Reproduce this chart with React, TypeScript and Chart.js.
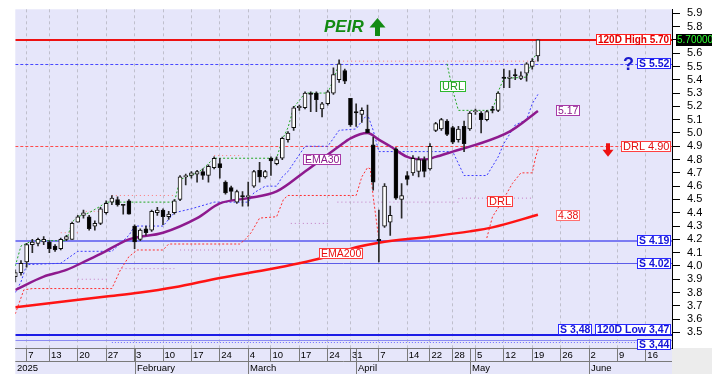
import React, { useEffect, useRef } from 'react';
import { Chart, registerables } from 'chart.js';

Chart.register(...registerables);

// ---------------- data ----------------
// one candle per trading day, index 0 = 2 Jan 2025
const opens = [
  3.92, 3.95, 4.03, 4.16, 4.17, 4.18, 4.18, 4.15, 4.13, 4.20,
  4.20, 4.33, 4.38, 4.37, 4.30, 4.32, 4.40, 4.48, 4.50, 4.46,
  4.49, 4.30, 4.20, 4.28, 4.27, 4.40, 4.42, 4.37, 4.40, 4.50,
  4.67, 4.68, 4.69, 4.71, 4.68, 4.74, 4.77, 4.63, 4.59, 4.48,
  4.53, 4.52, 4.60, 4.72, 4.67, 4.81, 4.77, 4.81, 4.95, 5.04,
  5.19, 5.19, 5.30, 5.30, 5.18, 5.22, 5.30, 5.40, 5.47, 5.26,
  5.16, 5.14, 5.03, 4.91, 4.20, 4.30, 4.33, 4.88, 4.50, 4.68,
  4.70, 4.71, 4.80, 4.73, 5.02, 5.03, 5.09, 5.04, 4.95, 5.05,
  5.03, 5.16, 5.15, 5.10, 5.18, 5.17, 5.42, 5.41, 5.44, 5.41,
  5.45, 5.50, 5.58,
];
const highs = [
  3.97, 4.04, 4.17, 4.20, 4.21, 4.22, 4.19, 4.16, 4.21, 4.23,
  4.33, 4.38, 4.42, 4.38, 4.34, 4.44, 4.49, 4.53, 4.52, 4.46,
  4.50, 4.31, 4.28, 4.30, 4.42, 4.44, 4.43, 4.41, 4.50, 4.68,
  4.69, 4.71, 4.72, 4.73, 4.76, 4.82, 4.81, 4.64, 4.60, 4.57,
  4.56, 4.63, 4.72, 4.78, 4.72, 4.82, 4.82, 4.97, 5.01, 5.20,
  5.21, 5.31, 5.31, 5.31, 5.23, 5.32, 5.49, 5.55, 5.48, 5.26,
  5.22, 5.19, 5.21, 4.97, 4.42, 4.62, 4.45, 4.89, 4.62, 4.71,
  4.83, 4.82, 4.82, 4.92, 5.08, 5.11, 5.10, 5.05, 5.05, 5.09,
  5.16, 5.18, 5.16, 5.17, 5.20, 5.31, 5.48, 5.47, 5.48, 5.46,
  5.53, 5.56, 5.70,
];
const lows = [
  3.88, 3.93, 3.99, 4.10, 4.15, 4.16, 4.10, 4.11, 4.12, 4.19,
  4.20, 4.33, 4.36, 4.27, 4.27, 4.31, 4.39, 4.46, 4.45, 4.39,
  4.39, 4.13, 4.19, 4.23, 4.26, 4.38, 4.31, 4.35, 4.39, 4.49,
  4.61, 4.66, 4.63, 4.65, 4.63, 4.73, 4.66, 4.54, 4.50, 4.47,
  4.45, 4.45, 4.59, 4.63, 4.66, 4.68, 4.76, 4.80, 4.93, 5.02,
  5.17, 5.18, 5.16, 5.16, 5.12, 5.21, 5.29, 5.38, 5.37, 5.05,
  5.05, 5.08, 5.00, 4.57, 4.03, 4.29, 4.23, 4.50, 4.36, 4.61,
  4.68, 4.67, 4.67, 4.72, 5.01, 5.02, 4.98, 4.92, 4.93, 4.86,
  5.02, 5.14, 5.00, 5.09, 5.15, 5.16, 5.34, 5.34, 5.40, 5.40,
  5.39, 5.48, 5.54,
];
const closes = [
  3.95, 4.02, 4.16, 4.18, 4.20, 4.20, 4.13, 4.12, 4.20, 4.22,
  4.32, 4.37, 4.40, 4.28, 4.32, 4.43, 4.47, 4.51, 4.46, 4.455,
  4.39, 4.18, 4.27, 4.25, 4.41, 4.42, 4.37, 4.39, 4.49, 4.67,
  4.68, 4.70, 4.71, 4.68, 4.75, 4.81, 4.74, 4.55, 4.56, 4.56,
  4.52, 4.53, 4.71, 4.67, 4.71, 4.79, 4.80, 4.96, 5.00, 5.19,
  5.20, 5.30, 5.29, 5.25, 5.22, 5.31, 5.44, 5.52, 5.39, 5.06,
  5.15, 5.17, 5.00, 4.63, 4.19, 4.60, 4.38, 4.51, 4.53, 4.65,
  4.81, 4.80, 4.71, 4.90, 5.07, 5.10, 4.99, 4.93, 5.03, 4.92,
  5.15, 5.16, 5.10, 5.16, 5.17, 5.30, 5.41, 5.42, 5.43, 5.43,
  5.52, 5.54, 5.70,
];

// x-axis tick labels (trading-day index -> label)
const dayTicks = [2, 6, 11, 16, 21, 26, 31, 36, 41, 45, 50, 55, 59, 64, 69, 73, 77, 81, 86, 91, 96, 101, 106, 111];
const dayLabels = ['7', '13', '20', '27', '3', '10', '17', '24', '4', '10', '17', '24', '31', '7', '14', '22', '28', '5', '12', '19', '26', '2', '9', '16'];
const monthTicks = [0, 21, 41, 60, 80, 101];
const monthLabels = ['2025', 'February', 'March', 'April', 'May', 'June'];
const priceTicks = [3.5, 3.6, 3.7, 3.8, 3.9, 4.0, 4.1, 4.2, 4.3, 4.4, 4.5, 4.6, 4.7, 4.8, 4.9, 5.0, 5.1, 5.2, 5.3, 5.4, 5.5, 5.6, 5.7, 5.8, 5.9];

// EMA200 (red)
const ema200Idx = [0, 10, 16, 22, 28, 36, 44, 50, 54, 60, 64, 73, 80, 84, 92];
const ema200Val = [3.69, 3.74, 3.77, 3.80, 3.84, 3.91, 3.97, 4.02, 4.06, 4.14, 4.175, 4.22, 4.26, 4.29, 4.385];
// EMA30 (purple)
const ema30Idx = [0, 5, 9, 13, 15, 20, 26, 32, 36, 41, 46, 51, 57, 59, 62, 64, 66, 69, 72, 74, 77, 81, 87, 92];
const ema30Val = [3.82, 3.92, 3.97, 4.05, 4.09, 4.20, 4.25, 4.36, 4.47, 4.51, 4.56, 4.71, 4.90, 4.96, 5.00, 4.95, 4.90, 4.82, 4.80, 4.82, 4.86, 4.91, 5.01, 5.165];
// blue trailing dotted line
const trailIdx = [0, 1, 2, 8, 9, 11, 17, 20, 21, 26, 28, 31, 35, 41, 42, 44, 46, 47, 48, 51, 55, 57, 60, 61, 62, 63, 64, 77, 78, 79, 83, 85, 86, 88, 90, 91, 92];
const trailVal = [3.80, 3.88, 4.01, 4.02, 4.05, 4.11, 4.11, 4.23, 4.30, 4.30, 4.40, 4.43, 4.48, 4.48, 4.55, 4.60, 4.60, 4.67, 4.71, 4.90, 4.90, 5.02, 5.03, 5.09, 5.14, 5.02, 4.86, 4.86, 4.77, 4.68, 4.68, 4.82, 4.92, 5.06, 5.10, 5.22, 5.29];
// URL (green)
const urlIdx = [0, 1, 3, 9, 10, 11, 13, 15, 16, 28, 29, 32, 33, 35, 46, 47, 48, 49, 51, 55, 56, 57, 57.5, 76, 77, 78, 84, 85, 86, 90, 91, 92];
const urlVal = [4.00, 4.15, 4.19, 4.19, 4.33, 4.37, 4.40, 4.45, 4.48, 4.48, 4.65, 4.70, 4.73, 4.81, 4.81, 4.95, 5.04, 5.19, 5.30, 5.30, 5.40, 5.52, null, 5.52, 5.32, 5.17, 5.17, 5.31, 5.41, 5.42, 5.54, 5.62];
// DRL (red dotted)
const drlIdx = [0, 1.5, 3, 17, 18.5, 20, 21.5, 26, 27, 39.5, 40.5, 41.5, 43, 46, 47.2, 48, 60, 61, 62, 62.5, 63, 64, 64.5, 83, 84, 85.5, 87.5, 89, 91, 91.6, 92.2];
const drlVal = [3.64, 3.82, 3.83, 3.83, 3.97, 4.07, 4.12, 4.12, 4.165, 4.165, 4.20, 4.25, 4.36, 4.37, 4.50, 4.53, 4.53, 4.67, 4.74, 4.73, 4.52, 4.20, null, 4.21, 4.37, 4.47, 4.62, 4.70, 4.70, 4.82, 4.90];
// upper pink dotted segments
const upperIdx = [8, 11.5, 12, 12.4, 15.6, 16, 17, 28.2, 30, 35, 40, 48, 57, 92];
const upperVal = [4.25, 4.25, null, 4.41, 4.41, null, 4.53, 4.53, null, 4.83, 4.83, null, 5.54, 5.54];
// lower faint magenta dotted segments
const lowerIdx = [11, 16.5, 17, 18, 28, 28.5, 29, 46.5, 47, 48.5, 55, 56, 56.7, 78, 78.1, 91.3];
const lowerVal = [3.90, 3.90, null, 3.98, 3.98, null, 4.12, 4.12, null, 4.32, 4.32, null, 4.48, 4.48, 4.51, 4.51];

// horizontal levels
const levelValues = [5.70, 5.52, 4.90, 4.19, 4.02, 3.48, 3.44, 3.43];
const levelLabels = ['120D High 5.70', 'S 5.52', 'DRL 4.90', 'S 4.19', 'S 4.02', 'S 3,48', 'S 3,44', ''];
const lowLabel = '120D Low 3,47';
const lastPriceLabel = '5.70000';
const lastPrice = 5.70;
const ticker = 'PEIR';

// in-chart tags
const tagLabels = ['URL', 'DRL', 'EMA30', 'EMA200', '5.17', '4.38'];
const tagValues = [5.346, 4.483, 4.80, 4.094, 5.17, 4.38];

// ---------------- layout / style ----------------
const FONT = '"Liberation Sans", Arial, Helvetica, sans-serif';
const PLOT_BG = '#e6e6fa';
const TAG_X = [74.8, 83.1, 50.6, 53.5, 95.2, 95.2];
const TAG_STYLE = [
  { border: '#2db82d', text: '#1f9a1f', font: '11px' },
  { border: '#ff3b3b', text: '#e81010', font: '11px' },
  { border: '#a83aa8', text: '#8b1a8b', font: '10.5px' },
  { border: '#ff3b3b', text: '#e81010', font: '10.5px' },
  { border: '#a83aa8', text: '#8b1a8b', font: '10.5px' },
  { border: '#ff7070', text: '#e81010', font: '10.5px' },
];
const LEVEL_STYLE = [
  { color: '#ee1111', width: 2, dash: [], box: '#ff2020', text: '#e00000', font: 'bold 10px', v: 'c', from: 0 },
  { color: '#4848ff', width: 1, dash: [3, 2], box: '#2a2aff', text: '#1414d8', font: 'bold 10.5px', v: 'c', from: 0 },
  { color: '#ff4a4a', width: 1, dash: [3, 2], box: '#ff4040', text: '#e01010', font: '11px', v: 'c', from: 0 },
  { color: '#7c7cf2', width: 2, dash: [], box: '#2a2aff', text: '#1414d8', font: 'bold 10.5px', v: 'c', from: 0 },
  { color: '#5c5ce8', width: 1, dash: [], box: '#2a2aff', text: '#1414d8', font: 'bold 10.5px', v: 'c', from: 0 },
  { color: '#1c1ce6', width: 2, dash: [], box: '#2a2aff', text: '#1414d8', font: 'bold 10.5px', v: 'a', from: 0 },
  { color: '#8c8cf2', width: 1, dash: [], box: '#2a2aff', text: '#1414d8', font: 'bold 10.5px', v: 'b', from: 0 },
  { color: '#6a6aff', width: 1, dash: [1, 2], box: '', text: '', font: '', v: 'c', from: 17 },
];

function drawBox(ctx: any, text: string, x: number, yc: number, align: string, border: string, color: string, font: string, fill = '#ffffff', h = 11, padX = 2) {
  ctx.font = font + ' ' + FONT;
  const w = Math.round(ctx.measureText(text).width + padX * 2);
  const left = Math.round(align === 'right' ? x - w : x);
  const top = Math.round(yc - h / 2);
  ctx.fillStyle = fill;
  ctx.fillRect(left, top, w, h);
  ctx.strokeStyle = border;
  ctx.lineWidth = 1;
  ctx.setLineDash([]);
  ctx.strokeRect(left + 0.5, top + 0.5, w - 1, h - 1);
  ctx.fillStyle = color;
  ctx.textAlign = 'left';
  ctx.textBaseline = 'middle';
  ctx.fillText(text, left + padX, top + h / 2 + 0.5);
  return { left, top, w };
}

export default function App() {
  const canvasRef = useRef<HTMLCanvasElement | null>(null);

  useEffect(() => {
    const canvas = canvasRef.current;
    if (!canvas) return;
    const xy = (xs: number[], ys: (number | null)[]) => xs.map((x, k) => ({ x, y: ys[k] }));
    const idx = closes.map((_, i) => i);

    const overlay = {
      id: 'overlay',
      beforeDraw(chart: any) {
        const { ctx, chartArea: a } = chart;
        ctx.save();
        ctx.fillStyle = '#ffffff';
        ctx.fillRect(0, 0, chart.width, chart.height);
        ctx.fillStyle = PLOT_BG;
        ctx.fillRect(a.left, a.top, a.right - a.left, a.bottom - a.top);
        ctx.fillRect(a.left, a.bottom, a.right - a.left, 26);
        ctx.fillStyle = '#ececec';
        ctx.fillRect(a.right, a.bottom, chart.width - a.right, 26);
        ctx.restore();
      },
      beforeDatasetsDraw(chart: any) {
        const { ctx, chartArea: a, scales } = chart;
        const ys = scales.y;
        const xs = scales.x;
        ctx.save();
        ctx.beginPath();
        ctx.rect(a.left, a.top, a.right - a.left, a.bottom - a.top);
        ctx.clip();
        levelValues.forEach((v, k) => {
          const st = LEVEL_STYLE[k];
          let y = ys.getPixelForValue(v);
          y = st.width % 2 === 1 ? Math.round(y) + 0.5 : Math.round(y);
          ctx.strokeStyle = st.color;
          ctx.lineWidth = st.width;
          ctx.setLineDash(st.dash);
          ctx.beginPath();
          ctx.moveTo(st.from ? xs.getPixelForValue(st.from) : a.left, y);
          ctx.lineTo(a.right, y);
          ctx.stroke();
        });
        ctx.restore();
      },
      afterDatasetsDraw(chart: any) {
        const { ctx, chartArea: a, scales } = chart;
        const ys = scales.y;
        const xs = scales.x;
        ctx.save();
        // level labels at right edge
        const R = a.right - 1;
        levelValues.forEach((v, k) => {
          const st = LEVEL_STYLE[k];
          const text = levelLabels[k];
          if (!text) return;
          const y = ys.getPixelForValue(v);
          let yc = y;
          if (st.v === 'a') yc = y - 5.5;
          if (st.v === 'b') yc = y + 4.5;
          if (k === 5) {
            const lb = drawBox(ctx, lowLabel, R, yc, 'right', st.box, st.text, st.font);
            drawBox(ctx, text, lb.left - 3, yc, 'right', st.box, st.text, st.font);
            return;
          }
          const b = drawBox(ctx, text, R, yc, 'right', st.box, st.text, st.font);
          if (k === 1) {
            ctx.font = 'bold 18px ' + FONT;
            ctx.fillStyle = '#1a1acc';
            ctx.textAlign = 'right';
            ctx.textBaseline = 'middle';
            ctx.fillText('?', b.left - 3, y + 1);
          }
          if (k === 2) {
            const ax = b.left - 13;
            ctx.fillStyle = '#ee1111';
            ctx.fillRect(ax - 2, y - 3, 4, 7);
            ctx.beginPath();
            ctx.moveTo(ax - 5.5, y + 3.5);
            ctx.lineTo(ax + 5.5, y + 3.5);
            ctx.lineTo(ax, y + 10.5);
            ctx.closePath();
            ctx.fill();
          }
        });
        // in-chart tags
        tagLabels.forEach((t, k) => {
          const st = TAG_STYLE[k];
          drawBox(ctx, t, xs.getPixelForValue(TAG_X[k]), ys.getPixelForValue(tagValues[k]), 'left', st.border, st.text, st.font);
        });
        // last price on the axis
        drawBox(ctx, lastPriceLabel, a.right + 4, ys.getPixelForValue(lastPrice), 'left', '#000000', '#33ff33', '10px', '#000000', 12, 1);
        // ticker title with arrow
        ctx.font = 'italic bold 17px ' + FONT;
        ctx.fillStyle = '#128a12';
        ctx.textAlign = 'left';
        ctx.textBaseline = 'alphabetic';
        ctx.fillText(ticker, 324, 31.5);
        ctx.beginPath();
        ctx.moveTo(369.5, 27.5);
        ctx.lineTo(377.5, 18);
        ctx.lineTo(385.5, 27.5);
        ctx.closePath();
        ctx.fill();
        ctx.fillRect(375, 27, 5, 9);
        // month row
        const rowY = Math.round(a.bottom + 13);
        ctx.strokeStyle = '#7a7a7a';
        ctx.lineWidth = 1;
        ctx.setLineDash([]);
        ctx.beginPath();
        ctx.moveTo(a.left, rowY + 0.5);
        ctx.lineTo(a.right, rowY + 0.5);
        ctx.stroke();
        ctx.font = '9.5px ' + FONT;
        ctx.fillStyle = '#000000';
        ctx.textBaseline = 'middle';
        monthTicks.forEach((m, k) => {
          const px = Math.round(xs.getPixelForValue(m)) + 0.5;
          if (k > 0) {
            ctx.beginPath();
            ctx.moveTo(px, a.bottom);
            ctx.lineTo(px, a.bottom + 26);
            ctx.stroke();
          }
          ctx.fillText(monthLabels[k], px + 1.5, rowY + 7);
        });
        ctx.restore();
      },
    };

    const lineDs = (label: string, xsArr: number[], ysArr: (number | null)[], color: string, width: number, dash: number[], order: number, smooth = false) => ({
      type: 'line',
      label,
      data: xy(xsArr, ysArr),
      borderColor: color,
      borderWidth: width,
      borderDash: dash,
      pointRadius: 0,
      tension: smooth ? 0.4 : 0,
      cubicInterpolationMode: smooth ? 'monotone' : 'default',
      spanGaps: false,
      fill: false,
      order,
    });

    const chart = new Chart(canvas, {
      type: 'bar',
      data: {
        datasets: [
          {
            type: 'bar',
            label: 'body',
            data: idx.map((i) => ({ x: i, y: [opens[i], closes[i]] })),
            backgroundColor: idx.map((i) => (closes[i] >= opens[i] ? '#ffffff' : '#000000')),
            borderColor: '#111111',
            borderWidth: 1,
            borderSkipped: false,
            barThickness: 4,
            minBarLength: 1,
            grouped: false,
            order: 0,
          },
          {
            type: 'bar',
            label: 'wick',
            data: idx.map((i) => ({ x: i, y: [lows[i], highs[i]] })),
            backgroundColor: '#2a2a2a',
            borderWidth: 0,
            barThickness: 1,
            grouped: false,
            order: 1,
          },
          lineDs('EMA200', ema200Idx, ema200Val, '#ff1414', 2.5, [], 3, true),
          lineDs('EMA30', ema30Idx, ema30Val, '#8e1a8e', 2.5, [], 3, true),
          lineDs('trail', trailIdx, trailVal, '#3d3dff', 1, [2, 2], 4),
          lineDs('URL', urlIdx, urlVal, '#22a822', 1, [2, 2], 4),
          lineDs('DRL', drlIdx, drlVal, '#ff3030', 1, [2, 2], 4),
          lineDs('upper', upperIdx, upperVal, '#ff7a7a', 1, [1, 3], 5),
          lineDs('lower', lowerIdx, lowerVal, '#c27ac2', 1, [1, 3], 5),
        ] as any,
      },
      options: {
        animation: false,
        responsive: true,
        maintainAspectRatio: false,
        events: [],
        layout: { padding: { left: 15.3, top: 9.3, right: 0, bottom: 0 } },
        plugins: { legend: { display: false }, tooltip: { enabled: false } },
        scales: {
          x: {
            type: 'linear',
            min: 0,
            max: 115.6,
            offset: false,
            afterBuildTicks: (s: any) => {
              s.ticks = dayTicks.map((v) => ({ value: v }));
            },
            afterFit: (s: any) => {
              s.height = 30;
              s.paddingLeft = 0;
              s.paddingRight = 0;
            },
            ticks: {
              autoSkip: false,
              maxRotation: 0,
              minRotation: 0,
              align: 'start',
              labelOffset: 1.5,
              padding: -11,
              color: '#000000',
              font: { size: 9.5, family: FONT },
              callback: (v: any) => {
                const k = dayTicks.indexOf(Number(v));
                return k >= 0 ? dayLabels[k] : '';
              },
            },
            grid: { color: '#bfbfcc', lineWidth: 1, offset: false, drawTicks: true, tickLength: 13, tickColor: '#7a7a7a' },
            border: { display: true, color: '#7a7a7a', dash: [3, 3] },
          },
          y: {
            type: 'linear',
            position: 'right',
            min: 3.383,
            max: 5.93,
            beginAtZero: false,
            afterBuildTicks: (s: any) => {
              s.ticks = priceTicks.map((v) => ({ value: v }));
            },
            afterFit: (s: any) => {
              s.width = 40;
              s.paddingTop = 0;
              s.paddingBottom = 0;
            },
            ticks: {
              autoSkip: false,
              color: '#000000',
              padding: 7,
              font: { size: 11, family: FONT },
              callback: (v: any) => Number(v).toFixed(1),
            },
            grid: { drawOnChartArea: false, drawTicks: true, tickLength: 8, tickColor: '#000000' },
            border: { display: true, color: '#000000' },
          },
        },
      } as any,
      plugins: [overlay],
    });

    return () => chart.destroy();
  }, []);

  return (
    <div style={{ position: 'absolute', left: 0, top: 0, width: 712, height: 378, background: '#ffffff' }}>
      <canvas ref={canvasRef} />
    </div>
  );
}
